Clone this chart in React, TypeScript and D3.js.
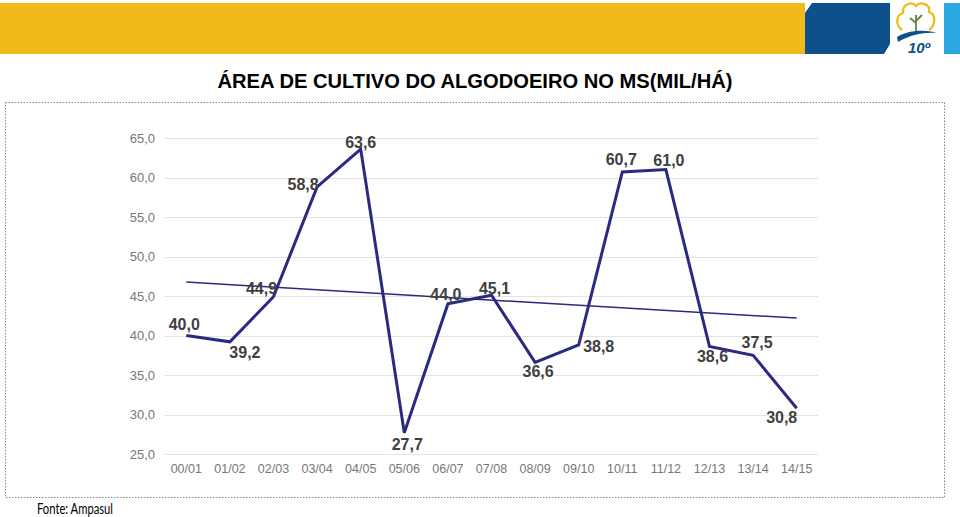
import React from "react";
import * as d3 from "d3";

const categories = ["00/01","01/02","02/03","03/04","04/05","05/06","06/07","07/08","08/09","09/10","10/11","11/12","12/13","13/14","14/15"];
const areaValues = [40.0, 39.2, 44.9, 58.8, 63.6, 27.7, 44.0, 45.1, 36.6, 38.8, 60.7, 61.0, 38.6, 37.5, 30.8];
const yTicks = [25, 30, 35, 40, 45, 50, 55, 60, 65];
const titleText = "ÁREA DE CULTIVO DO ALGODOEIRO NO MS(MIL/HÁ)";
const sourceText = "Fonte: Ampasul";
// label placement per point: [dx, dy] relative to the point (layout only)
const labelPlacement: [number, number][] = [
  [-2, -11], [15, 11], [-12, -8], [-14, -2], [0, -7], [3, 12], [-2, -9], [3, -7],
  [3, 9], [20, 2], [-1, -12], [3, -9], [3, 10], [4, -13], [-15, 9],
];

const fmt = (v: number) => v.toFixed(1).replace(".", ",");

export default function App() {
  const W = 960, H = 517;
  const x = d3.scaleBand<string>().domain(categories).range([164.5, 818.5]);
  const y = d3.scaleLinear().domain([25, 65]).range([454, 138]);
  const cx = (c: string) => (x(c) ?? 0) + x.bandwidth() / 2;

  const pts = categories.map((c, i) => ({ c, i, v: areaValues[i] }));
  const line = d3.line<{ c: string; v: number }>().x(d => cx(d.c)).y(d => y(d.v));

  // linear trend line (least squares)
  const n = areaValues.length;
  const mx = d3.mean(d3.range(n)) as number;
  const my = d3.mean(areaValues) as number;
  const sxy = d3.sum(areaValues.map((v, i) => (i - mx) * (v - my)));
  const sxx = d3.sum(d3.range(n).map(i => (i - mx) ** 2));
  const slope = sxy / sxx;
  const trendAt = (i: number) => my + slope * (i - mx);

  const lineColor = "#2b2a80";
  const font = "Liberation Sans, Arial, sans-serif";

  return (
    <svg width={W} height={H} style={{ position: "absolute", left: 0, top: 0, background: "#fff" }} fontFamily={font}>
      {/* header */}
      <rect x={0} y={3} width={805} height={51} fill="#f1b91a" />
      <path d="M812,3 L890,3 L890,44 L884,54 L805,54 L805,13 Z" fill="#0d508b" />
      <rect x={944} y={3} width={16} height={51} fill="#2aa9e1" />
      {/* logo */}
      <g>
        <path d="M902,30 C895,25 896,15 903,13 C902,4 912,1 916,6 C920,1 931,4 929,12 C936,14 936,25 929,30"
          fill="none" stroke="#f1b91a" strokeWidth={2.2} />
        <path d="M916,32 L916,15 M916,23 L910,18 M916,21 L922,15" stroke="#5a8a3a" strokeWidth={1.8} fill="none" />
        <path d="M897,37 C908,30 925,29 937,33 C924,32 910,35 898,42 Z" fill="#0d508b" />
        <text x={919} y={53} fontSize={15} fontStyle="italic" fontWeight="bold" fill="#0d508b" textAnchor="middle">10º</text>
      </g>

      {/* title */}
      <text x={475} y={88} fontSize={19.5} fontWeight="bold" textAnchor="middle" fill="#000"
        textLength={515} lengthAdjust="spacingAndGlyphs">{titleText}</text>

      {/* chart border */}
      <rect x={5.5} y={102.5} width={939} height={395} fill="none" stroke="#8a8a8a" strokeWidth={1} strokeDasharray="1.5,1.5" />

      {/* gridlines & y ticks */}
      {yTicks.map(t => (
        <g key={t}>
          <line x1={164.5} x2={818.5} y1={Math.round(y(t)) + 0.5} y2={Math.round(y(t)) + 0.5} stroke="#e3e3e3" strokeWidth={1} />
          <text x={155} y={y(t) + 4.5} fontSize={13} fill="#777" textAnchor="end">{fmt(t)}</text>
        </g>
      ))}

      {/* x labels */}
      {categories.map(c => (
        <text key={c} x={cx(c)} y={473} fontSize={12.5} fill="#777" textAnchor="middle">{c}</text>
      ))}

      {/* trend line */}
      <line x1={cx(categories[0])} y1={y(trendAt(0))} x2={cx(categories[n - 1])} y2={y(trendAt(n - 1))}
        stroke={lineColor} strokeWidth={1.5} />

      {/* data line */}
      <path d={line(pts) ?? ""} fill="none" stroke={lineColor} strokeWidth={3} strokeLinejoin="miter" />

      {/* data labels */}
      {pts.map(p => (
        <text key={p.c} x={cx(p.c) + labelPlacement[p.i][0]} y={y(p.v) + labelPlacement[p.i][1] + 5.5}
          fontSize={16} fontWeight="bold" fill="#404040" textAnchor="middle">{fmt(p.v)}</text>
      ))}

      {/* source */}
      <text x={37} y={514} fontSize={14.5} fill="#000" fontFamily="Lato, 'Open Sans', sans-serif"
        textLength={76} lengthAdjust="spacingAndGlyphs">{sourceText}</text>
    </svg>
  );
}
